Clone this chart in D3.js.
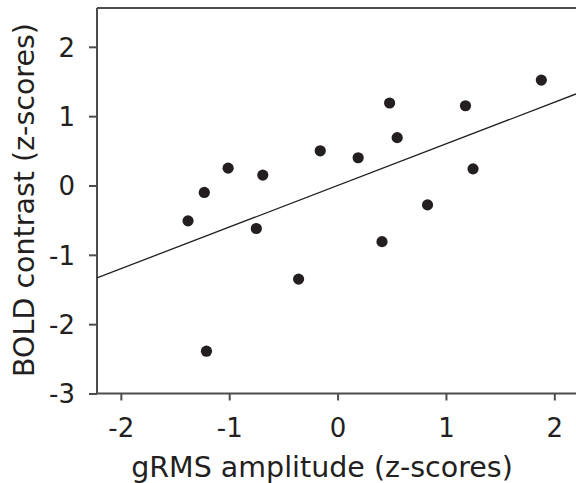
<!DOCTYPE html>
<html>
<head>
<meta charset="utf-8">
<script src="https://cdn.jsdelivr.net/npm/d3@7"></script>
<style>
    body { margin: 0; background: #fff; }
    svg { display: block; }
    .axis path, .axis line { stroke: #4d4d4d; stroke-width: 2px; }
    .axis text { font-family: "DejaVu Sans", sans-serif; font-size: 26px; fill: #231f20; }
    .title { font-family: "DejaVu Sans", sans-serif; font-size: 28.5px; fill: #231f20; }
</style>
</head>
<body>
<div id="chart"></div>
<script>
// gRMS amplitude (x) vs BOLD contrast (y), z-scores
const gRMS = [-1.38, -1.23, -1.01, -0.75, -0.69, -1.21, -0.36, -0.16, 0.19, 0.41, 0.48, 0.55, 0.83, 1.18, 1.25, 1.88];
const bold = [-0.51, -0.10, 0.25, -0.62, 0.15, -2.39, -1.35, 0.50, 0.40, -0.81, 1.19, 0.69, -0.28, 1.15, 0.24, 1.52];
const xTicks = [-2, -1, 0, 1, 2];
const yTicks = [-3, -2, -1, 0, 1, 2];
// least squares fit shown in the figure
const fitSlope = 0.60;
const fitIntercept = 0.0;

const setting = { width: 576, height: 483, left: 97, top: 8, bottom: 393.5, right: 576 };

const svg = d3.select('#chart').append('svg')
    .attr('width', setting.width)
    .attr('height', setting.height);

const xScale = d3.scaleLinear().domain([-2.22, 2.2]).range([setting.left, setting.right]);
const yScale = d3.scaleLinear().domain([-3, 2.56]).range([setting.bottom, setting.top]);

// frame top edge (right edge runs off the picture)
svg.append('line')
    .attr('x1', setting.left).attr('x2', setting.width + 2)
    .attr('y1', setting.top).attr('y2', setting.top)
    .attr('stroke', '#4d4d4d').attr('stroke-width', 2);

const xAxis = d3.axisBottom(xScale).tickValues(xTicks).tickSize(7).tickPadding(18)
    .tickFormat(d => String(d));
const yAxis = d3.axisLeft(yScale).tickValues(yTicks).tickSize(8).tickPadding(14)
    .tickFormat(d => String(d));

svg.append('g')
    .attr('class', 'x axis')
    .attr('transform', 'translate(0,' + setting.bottom + ')')
    .call(xAxis)
    .call(g => g.select('.domain').attr('d', 'M' + setting.left + ',0H' + (setting.width + 2)));

svg.append('g')
    .attr('class', 'y axis')
    .attr('transform', 'translate(' + setting.left + ',0)')
    .call(yAxis)
    .call(g => g.select('.domain').attr('d', 'M0,' + setting.bottom + 'V' + setting.top));

svg.selectAll('.y.axis text').attr('dy', '0.36em');

// regression line across the x domain
const xDom = xScale.domain();
svg.append('path')
    .datum(xDom)
    .attr('fill', 'none')
    .attr('stroke', '#231f20')
    .attr('stroke-width', 1.3)
    .attr('d', d3.line()
        .x(d => xScale(d))
        .y(d => yScale(fitSlope * d + fitIntercept)));

svg.append('g')
    .selectAll('circle')
    .data(d3.range(gRMS.length))
    .enter()
    .append('circle')
    .attr('cx', i => xScale(gRMS[i]))
    .attr('cy', i => yScale(bold[i]))
    .attr('r', 5.6)
    .attr('fill', '#231f20');

svg.append('text')
    .attr('class', 'title')
    .attr('x', 322)
    .attr('y', 477)
    .attr('text-anchor', 'middle')
    .text('gRMS amplitude (z-scores)');

svg.append('text')
    .attr('class', 'title')
    .attr('transform', 'translate(34,200) rotate(-90)')
    .attr('text-anchor', 'middle')
    .text('BOLD contrast (z-scores)');
</script>
</body>
</html>
